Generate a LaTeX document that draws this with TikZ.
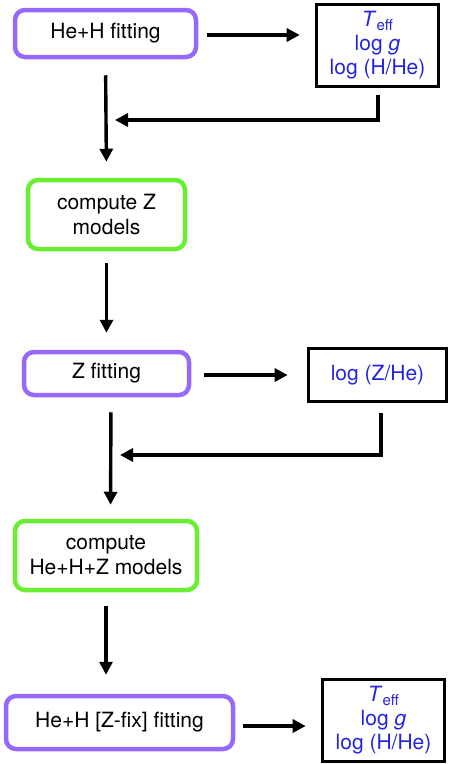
\documentclass[tikz,border=0pt]{standalone}
\usepackage{fontspec}
\setmainfont{TeX Gyre Heros}
\usetikzlibrary{arrows.meta}
\definecolor{fitpurple}{RGB}{150,105,250}
\definecolor{modgreen}{RGB}{105,238,50}
\definecolor{resblue}{RGB}{35,35,225}
\tikzset{
  fitbox/.style={draw=fitpurple, line width=4.5pt, rounded corners=10pt, align=center, inner sep=0pt,
    font=\fontsize{21}{25}\selectfont},
  modbox/.style={draw=modgreen, line width=4.5pt, rounded corners=10pt, align=center, inner sep=0pt,
    font=\fontsize{21}{25}\selectfont},
  resbox/.style={draw=black, line width=3.6pt, align=center, inner sep=0pt, text=resblue,
    font=\fontsize{21}{24}\selectfont},
  arr/.style={line width=3.4pt, -{Triangle[length=13pt,width=13pt]}},
}
\newcommand{\teff}{\textit{T}\raisebox{-0.35ex}{\fontsize{15}{15}\selectfont eff}}
\begin{document}
\begin{tikzpicture}[x=1pt,y=-1pt]
\useasboundingbox (0,0) rectangle (452,764);
% nodes
\node[fitbox, minimum width=181pt, minimum height=47pt] (b1) at (105.5,33.5) {He+H fitting};
\node[resbox, minimum width=122pt, minimum height=82pt] (r1) at (377.5,45.5) {\teff\\log \textit{g}\\log (H/He)};
\node[modbox, minimum width=157pt, minimum height=69pt] (b3) at (106.5,214.5) {compute Z\\models};
\node[fitbox, minimum width=165pt, minimum height=43pt] (b4) at (106.5,373.5) {Z fitting};
\node[resbox, minimum width=138pt, minimum height=53pt] (r2) at (377.5,375) {log (Z/He)};
\node[modbox, minimum width=182pt, minimum height=69pt] (b6) at (106,555.5) {compute\\He+H+Z models};
\node[fitbox, minimum width=227pt, minimum height=53pt] (b7) at (119.5,722.5) {He+H [Z-fix] fitting};
\node[resbox, minimum width=122pt, minimum height=82pt] (r3) at (383.5,720.5) {\teff\\log \textit{g}\\log (H/He)};
\coordinate (j1) at (115,120);
\coordinate (j2) at (120,455);
% connectors
\draw[arr, shorten <=9pt, shorten >=15pt] ([yshift=-1.5pt]b1.east) -- ([yshift=-1.5pt]b1.east -| r1.west);
\draw[arr, shorten <=16pt, shorten >=16pt] (b1.south) -- (b3.north);
\draw[arr, shorten <=7pt, line join=miter] ([xshift=0.5pt]r1.south) |- (j1);
\draw[arr, shorten <=12pt, shorten >=17pt] (b3.south) -- (b4.north);
\draw[arr, shorten <=13pt, shorten >=19pt] ([yshift=-1.5pt]b4.east) -- ([yshift=-1.5pt]b4.east -| r2.west);
\draw[arr, shorten <=15pt, shorten >=14pt] ([xshift=4.5pt]b4.south) -- ([xshift=4.5pt]b6.north);
\draw[arr, shorten <=10pt, line join=miter] ([xshift=3.5pt]r2.south) |- (j2);
\draw[arr, shorten <=14pt, shorten >=19pt] (b6.south) -- (b6.south |- b7.north);
\draw[arr, shorten <=8pt, shorten >=15pt] ([yshift=-3.5pt]b7.east) -- ([yshift=-3.5pt]b7.east -| r3.west);
\end{tikzpicture}
\end{document}
